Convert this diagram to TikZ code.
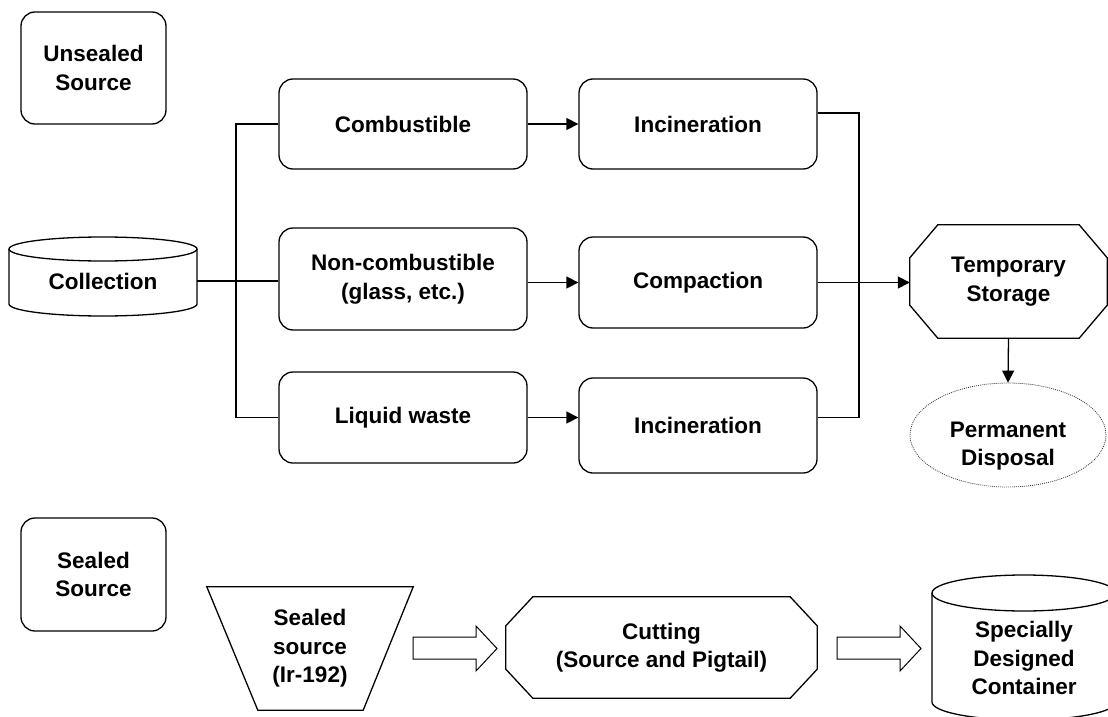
\documentclass[tikz,border=0pt]{standalone}
\usepackage{fontspec}
\setmainfont{Liberation Sans}
\usetikzlibrary{arrows.meta,calc,shapes.geometric}
\begin{document}
\begin{tikzpicture}[x=1pt,y=-1pt,
  lbl/.style={font=\fontsize{22.5}{28.5}\selectfont\bfseries, align=center, inner sep=0pt},
  rbox/.style={lbl, draw, line width=1.3pt, rounded corners=14pt},
  anchorbox/.style={lbl},
  outline/.style={line width=1.3pt},
  link/.style={line width=1.3pt},
  arr/.style={link, -{Triangle[length=12pt,width=12pt]}},
  blockarrow/.style={line width=1pt, fill=white},
  dotline/.style={line width=0.8pt, dash pattern=on 0.9pt off 1.1pt, draw=black!80}
]
\useasboundingbox (0,0) rectangle (1108,717);
\clip (0,0) rectangle (1108,717);

% ---- Unsealed source branch ----
\node[rbox, minimum width=145pt, minimum height=112pt] (uns) at (93.5,68) {Unsealed\\Source};

% collection drum
\draw[outline, fill=white] (9,249) -- (9,304) arc[start angle=180, end angle=0, x radius=94, y radius=12] -- (197,249);
\draw[outline] (103,249) ellipse [x radius=94, y radius=12];
\node[anchorbox, minimum width=188pt, minimum height=79pt] (coll) at (103,281) {Collection};

\node[rbox, minimum width=248pt, minimum height=90pt]  (comb)    at (403,124)   {Combustible};
\node[rbox, minimum width=248pt, minimum height=102pt] (noncomb) at (403,279)   {Non-combustible\\(glass, etc.)};
\node[rbox, minimum width=248pt, minimum height=91pt]  (liq)     at (403,417.5) {Liquid waste};

\node[rbox, minimum width=238pt, minimum height=90pt] (inc1) at (698,124)   {Incineration};
\node[rbox, minimum width=238pt, minimum height=91pt] (comp) at (698,282.5) {Compaction};
\node[rbox, minimum width=238pt, minimum height=95pt] (inc2) at (698,425.5) {Incineration};

% temporary storage (octagon)
\node[anchorbox, minimum width=197pt, minimum height=113pt] (temp) at (1008.5,281.5) {Temporary\\Storage};
\draw[outline] ($(temp.north west)+(28,0)$) -- ($(temp.north east)+(-28,0)$)
  -- ($(temp.north east)+(0,33)$) -- ($(temp.south east)+(0,-33)$)
  -- ($(temp.south east)+(-28,0)$) -- ($(temp.south west)+(28,0)$)
  -- ($(temp.south west)+(0,-33)$) -- ($(temp.north west)+(0,33)$) -- cycle;

% permanent disposal
\node[draw, dotline, ellipse, minimum width=196pt, minimum height=104pt, inner sep=0pt] (perm) at (1008,435) {};
\node[lbl] (permtxt) at (1008,446) {Permanent\\Disposal};

% connectors
\coordinate (trk) at (236,0);
\coordinate (bus) at (859,0);
\draw[link] (coll.east) -- (coll.east -| noncomb.west);
\draw[link] (comb.west) -- (comb.west -| trk) -- (liq.west -| trk) -- (liq.west);
\draw[arr] (comb.east) -- (inc1.west);
\draw[arr] (noncomb.east |- comp.west) -- (comp.west);
\draw[arr] (liq.east) -- (liq.east -| inc2.west);
\draw[link] ([yshift=11pt]inc1.east) -- ([yshift=11pt]inc1.east -| bus)
  -- ([yshift=8pt]inc2.east -| bus) -- ([yshift=8pt]inc2.east);
\draw[arr] (comp.east) -- (comp.east -| temp.west);
\draw[arr] (temp.south) -- (perm.north);

% ---- Sealed source branch ----
\node[rbox, minimum width=145pt, minimum height=113pt] (seal) at (93.5,574.5) {Sealed\\Source};

% sealed source (trapezoid)
\node[anchorbox, minimum width=206pt, minimum height=123pt] (trap) at (310,648.5) {Sealed\\source\\(Ir-192)};
\draw[outline] (trap.north west) -- (trap.north east) -- ($(trap.south east)+(-50,0)$)
  -- ($(trap.south west)+(51,0)$) -- cycle;

% cutting (octagon)
\node[anchorbox, minimum width=311pt, minimum height=101pt] (cut) at (661.5,647.5) {Cutting\\(Source and Pigtail)};
\draw[outline] ($(cut.north west)+(27,0)$) -- ($(cut.north east)+(-27,0)$)
  -- ($(cut.north east)+(0,29)$) -- ($(cut.south east)+(0,-29)$)
  -- ($(cut.south east)+(-27,0)$) -- ($(cut.south west)+(27,0)$)
  -- ($(cut.south west)+(0,-29)$) -- ($(cut.north west)+(0,29)$) -- cycle;

% specially designed container (drum)
\draw[outline, fill=white] (932,593) -- (932,702) arc[start angle=180, end angle=0, x radius=92, y radius=18] -- (1116,593);
\draw[outline] (1024,593) ellipse [x radius=92, y radius=18];
\node[lbl] (cont) at (1024,658) {Specially\\Designed\\Container};

% block arrows
\draw[blockarrow] (413,637) -- (476,637) -- (476,626) -- (497,648.5) -- (476,671) -- (476,659) -- (413,659) -- cycle;
\draw[blockarrow] (837,637) -- (900,637) -- (900,626) -- (921,648.5) -- (900,671) -- (900,659) -- (837,659) -- cycle;
\end{tikzpicture}
\end{document}
